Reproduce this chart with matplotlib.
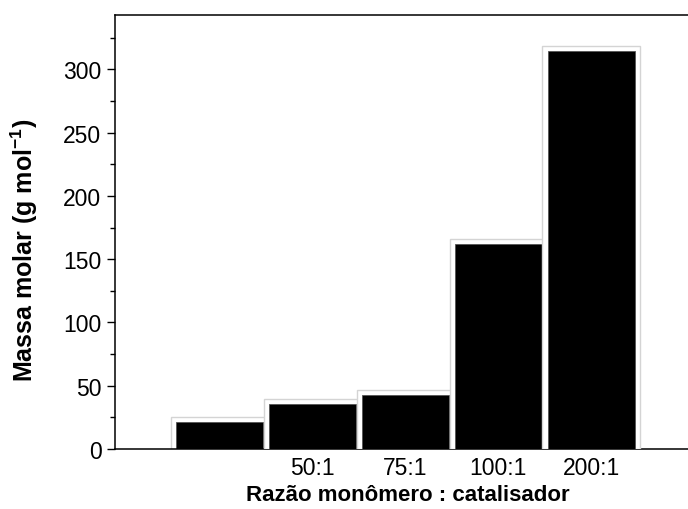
import matplotlib
matplotlib.use("Agg")
import matplotlib.pyplot as plt
from matplotlib.ticker import MultipleLocator
import numpy as np

plt.rcParams['font.family'] = ['Liberation Sans', 'DejaVu Sans']
plt.rcParams['mathtext.fontset'] = 'custom'
plt.rcParams['mathtext.rm'] = 'Liberation Sans'
plt.rcParams['mathtext.bf'] = 'Liberation Sans:bold'

# data
ratios = ["", "50:1", "75:1", "100:1", "200:1"]
massa = [21.6, 35.5, 42.9, 161.8, 314.5]

x = np.arange(len(ratios))
pad = 4.0  # white frame above each bar

fig = plt.figure(figsize=(6.88, 5.10), dpi=100)
ax = fig.add_axes([115/688, 60/510, 585/688, 434/510])

for i in range(len(x)):
    ax.bar(x[i], massa[i] + pad, width=1.05, color="white",
           edgecolor="#d4d4d4", linewidth=1.0, zorder=2*i+1)
    ax.bar(x[i], massa[i], width=0.935, color="black",
           edgecolor="#555555", linewidth=0.6, zorder=2*i+2)

ax.set_xlim(-1.124, 5.17)
ax.set_ylim(0, 343)
ax.set_xticks(x)
ax.set_xticklabels(ratios, fontsize=16.5)
ax.tick_params(axis='x', length=0, pad=5)
ax.yaxis.set_major_locator(MultipleLocator(50))
ax.yaxis.set_minor_locator(MultipleLocator(25))
ax.tick_params(axis='y', which='major', direction='out', length=5.8, width=1.0,
               labelsize=16.5, pad=4)
ax.tick_params(axis='y', which='minor', direction='out', length=3.6, width=1.0)

for s in ax.spines.values():
    s.set_linewidth(1.1)

ax.set_xlabel("Razão monômero : catalisador", fontsize=16, fontweight='bold', labelpad=4)
ax.set_ylabel(r"Massa molar (g mol$^{\mathbf{-1}}$)", fontsize=18, fontweight='bold')
ax.yaxis.set_label_coords(-0.129, 0.46)

fig.savefig("out.png", dpi=100)
